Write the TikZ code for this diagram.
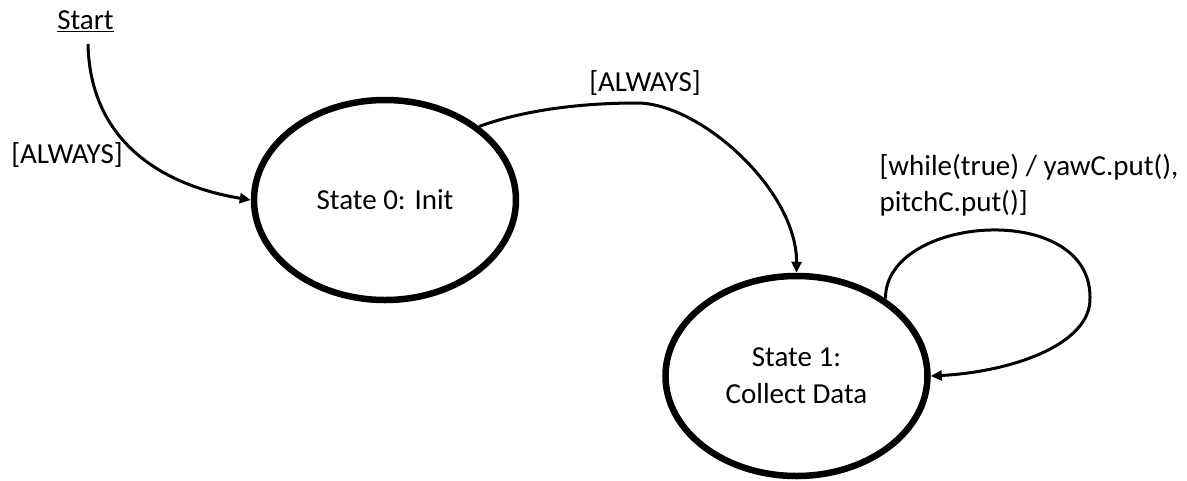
\documentclass[tikz,border=0pt]{standalone}
\usepackage{fontspec}
\setmainfont{Carlito}
\usetikzlibrary{shapes.geometric,arrows.meta}
\begin{document}
\begin{tikzpicture}[x=1pt,y=-1pt,
  state/.style={ellipse,draw,line width=6.5pt,minimum width=262pt,minimum height=200pt,inner sep=0pt,align=center,font=\fontsize{29}{37}\selectfont},
  lbl/.style={font=\fontsize{29}{36}\selectfont,inner sep=0pt,align=left},
  conn/.style={line width=3pt,-{Triangle[length=11pt,width=10pt]}}]
\useasboundingbox (0,0) rectangle (1187,480);
\node[lbl] (start) at (85.5,21) {\underline{Start}};
\coordinate (startpt) at (88,44);
\node[state] (s0) at (385,200) {State 0: Init};
\node[state] (s1) at (796.5,376) {State 1:\\Collect Data};
\node[lbl] (l0) at (67,155) {[ALWAYS]};
\node[lbl] (l1) at (645,83) {[ALWAYS]};
\node[lbl] (l2) at (1029,185) {[while(true) / yawC.put(),\\pitchC.put()]};
\draw[conn] (startpt) .. controls (90,140) and (160,185) .. (s0.west);
\draw[conn] (s0.38) .. controls (530,108) and (590,103) .. (637,103) .. controls (700,103) and (797,190) .. (s1.north);
\draw[conn] (s1.41) .. controls (885,215) and (1090,200) .. (1090,297) .. controls (1092,345) and (1010,372) .. (s1.east);
\end{tikzpicture}
\end{document}
